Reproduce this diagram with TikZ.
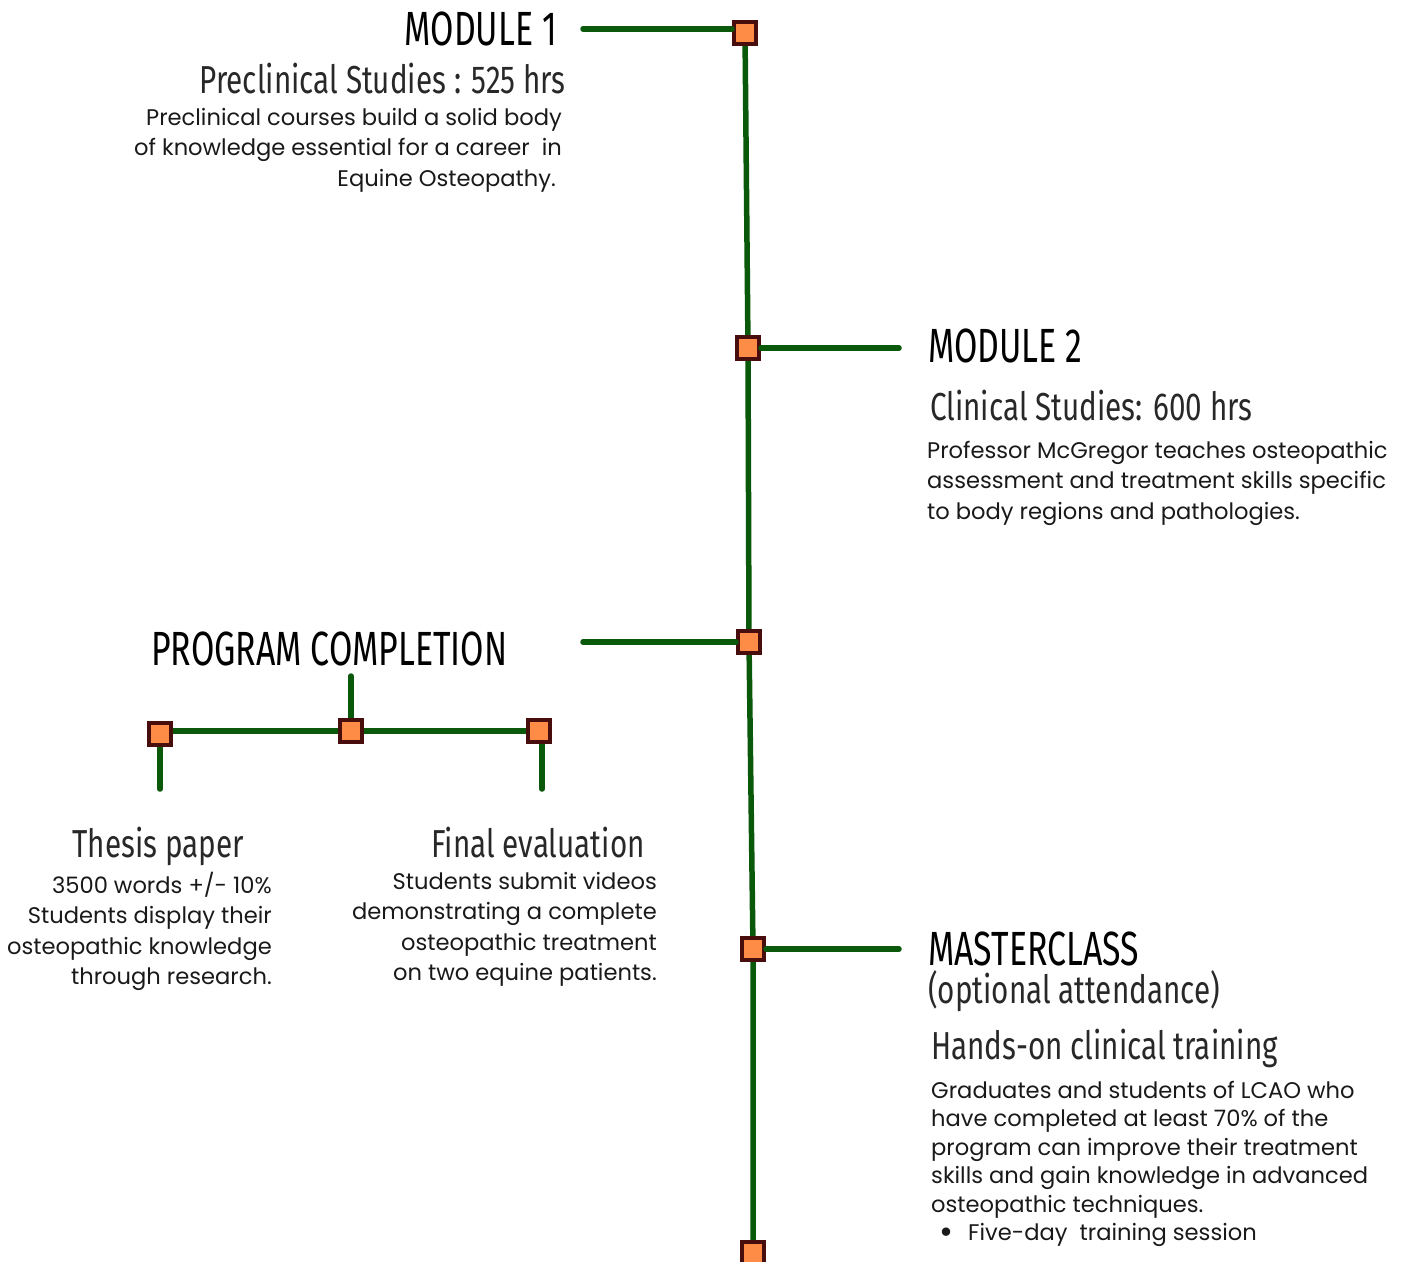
\documentclass[tikz,border=0pt]{standalone}
\usepackage{fontspec}
\setmainfont{Poppins}
\newfontfamily\headfontA[FakeStretch=0.705]{Fira Sans}
\newfontfamily\headfontB[FakeStretch=0.76]{Fira Sans}
\definecolor{lineg}{RGB}{10,88,10}
\definecolor{boxfill}{RGB}{255,140,70}
\definecolor{boxdraw}{RGB}{72,14,14}
\definecolor{subgray}{RGB}{40,40,40}
\definecolor{bodyc}{RGB}{25,25,25}
\begin{document}
\begin{tikzpicture}[x=1pt,y=-1pt,
  sqbox/.style={draw=boxdraw,fill=boxfill,line width=4pt,minimum size=22pt,inner sep=0pt,rectangle},
  link/.style={draw=lineg,line width=5.5pt,line cap=round},
  headA/.style={inner sep=0pt,font=\headfontA\fontsize{48}{50}\selectfont,text=black},
  headB/.style={inner sep=0pt,font=\headfontB\fontsize{39}{42}\selectfont,text=subgray},
  body/.style={inner sep=0pt,font=\fontsize{22.6}{30.4}\selectfont,text=bodyc}]
\useasboundingbox (0,0) rectangle (1405,1261);
% main timeline squares
\node[sqbox] (s1) at (745,33) {};
\node[sqbox] (s2) at (748,348) {};
\node[sqbox] (s3) at (749,642) {};
\node[sqbox] (s4) at (753,949) {};
\node[sqbox] (s5) at (753,1253) {};
\draw[link] (s1) -- (s2) -- (s3) -- (s4) -- (s5);
\foreach \n in {s1,s2,s3,s4,s5} {\node[sqbox] at (\n) {};}
% branch connectors
\coordinate (c1) at (583,29);
\coordinate (c2) at (899,348);
\coordinate (c3) at (583,642);
\coordinate (c4) at (899,949);
\draw[link] (c1) -- (c1 -| s1.west);
\draw[link] (s2.east) -- (c2);
\draw[link] (c3) -- (s3.west);
\draw[link] (s4.east) -- (c4);
% program completion sub-tree
\node[sqbox] (p1) at (160,734) {};
\node[sqbox] (p2) at (351,731) {};
\node[sqbox] (p3) at (539,731) {};
\coordinate (pt) at (351,676);
\coordinate (pl) at (160,789);
\coordinate (pr) at (542,789);
\draw[link] (p2 -| p1) -- (p2) -- (p3);
\draw[link] (pt) -- (p2.north);
\draw[link] (p1.south) -- (pl);
\draw[link] (p3.south -| pr) -- (pr);
\foreach \n in {p1,p2,p3} {\node[sqbox] at (\n) {};}
% texts
\node[headA,anchor=base east] (m1) at (557,45) {MODULE 1};
\node[headB,anchor=base east] (m1s) at (566,93) {Preclinical Studies : 525 hrs};
\node[body,align=right,anchor=north east] (m1b) at (562,108) {Preclinical courses build a solid body\\of knowledge essential for a career\ \ in\\Equine Osteopathy.\hspace*{6pt}};
\node[headA,anchor=base west] (m2) at (928,362) {MODULE 2};
\node[headB,anchor=base west] (m2s) at (930,420) {Clinical Studies: 600 hrs};
\node[body,align=left,anchor=north west] (m2b) at (927,441) {Professor McGregor teaches osteopathic\\assessment and treatment skills specific\\to body regions and pathologies.};
\node[headA,anchor=base west] (pc) at (151,665) {PROGRAM COMPLETION};
\node[headB,anchor=base] (th) at (158,857) {Thesis paper};
\node[body,align=right,anchor=north east] (thb) at (272,872) {3500 words +/- 10\%\\Students display their\\osteopathic knowledge\\through research.};
\node[headB,anchor=base] (fe) at (538,857) {Final evaluation};
\node[body,align=right,anchor=north east] (feb) at (657,872) {Students submit videos\\demonstrating a complete\\osteopathic treatment\\on two equine patients.};
\node[headA,anchor=base west] (mc) at (928,965) {MASTERCLASS};
\node[headB,anchor=base west] (mco) at (928,1003) {(optional attendance)};
\node[headB,anchor=base west] (mch) at (931,1059) {Hands-on clinical training};
\node[body,align=left,anchor=north west,font=\fontsize{22.6}{28.5}\selectfont] (mcb) at (931,1081) {Graduates and students of LCAO who\\have completed at least 70\% of the\\program can improve their treatment\\skills and gain knowledge in advanced\\osteopathic techniques.\\\hspace*{8pt}{\fontsize{34}{28.5}\selectfont\raisebox{-2.5pt}{•}}\hspace{15pt}Five-day\ \ training session};
\end{tikzpicture}
\end{document}
